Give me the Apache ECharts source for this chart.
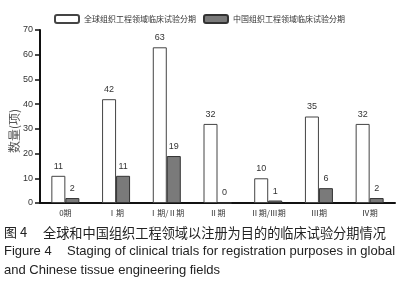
<!DOCTYPE html>
<html>
<head>
<meta charset="utf-8">
<script src="https://cdn.jsdelivr.net/npm/echarts@6/dist/echarts.min.js"></script>
<style>
  html, body { margin: 0; padding: 0; background: #fff; }
  #chart { width: 408px; height: 288px; }
</style>
</head>
<body>
<div id="chart"></div>
<script>
// 分期类别
const categories = ['0期', 'Ⅰ期', 'Ⅰ期/Ⅱ期', 'Ⅱ期', 'Ⅱ期/Ⅲ期', 'Ⅲ期', 'Ⅳ期']
// 全球
const globalCounts = [11, 42, 63, 32, 10, 35, 32]
// 中国
const chinaCounts = [2, 11, 19, 0, 1, 6, 2]
const yTicks = [0, 10, 20, 30, 40, 50, 60, 70]

const cjk = '"Noto Sans CJK SC", sans-serif'
const latin = '"Liberation Sans", Arial, sans-serif'

const mychart = echarts.init(document.getElementById('chart'))
mychart.setOption({
  animation: false,
  legend: {
    top: 9,
    left: 49,
    itemWidth: 24,
    itemHeight: 8,
    itemGap: 7,
    textStyle: { fontFamily: cjk, fontSize: 8, color: '#333' },
    data: ['全球组织工程领域临床试验分期', '中国组织工程领域临床试验分期']
  },
  grid: { left: 40, right: 13, top: 30, bottom: 85 },
  xAxis: {
    type: 'category',
    data: categories,
    axisLine: { lineStyle: { color: '#111', width: 2 } },
    axisTick: { length: 3, lineStyle: { color: '#999' } },
    axisLabel: { fontFamily: cjk, fontSize: 8, color: '#333', margin: 6, interval: 0 }
  },
  yAxis: {
    type: 'value',
    min: yTicks[0],
    max: yTicks[yTicks.length - 1],
    interval: 10,
    axisLine: { show: true, lineStyle: { color: '#111', width: 2 } },
    axisTick: { show: true, length: 5, lineStyle: { color: '#111', width: 1.5 } },
    axisLabel: { fontFamily: latin, fontSize: 9, color: '#333', margin: 7 },
    splitLine: { show: false }
  },
  series: [
    {
      name: '全球组织工程领域临床试验分期',
      type: 'bar',
      data: globalCounts,
      barWidth: 14,
      barGap: '0%',
      itemStyle: { color: '#fff', borderColor: '#444', borderWidth: 1 },
      label: { show: true, position: 'top', distance: 5, fontFamily: latin, fontSize: 9, color: '#333' }
    },
    {
      name: '中国组织工程领域临床试验分期',
      type: 'bar',
      data: chinaCounts,
      barWidth: 14,
      itemStyle: { color: '#7a7a7a', borderColor: '#333', borderWidth: 1 },
      label: { show: true, position: 'top', distance: 5, fontFamily: latin, fontSize: 9, color: '#333' }
    }
  ],
  graphic: [
    // 纵轴标题
    {
      type: 'text', x: 14, y: 131, rotation: Math.PI / 2,
      style: { text: '数量(项)', font: '12px ' + cjk, fill: '#555', align: 'center', verticalAlign: 'middle' }
    },
    {
      type: 'text', left: 4, top: 226,
      style: { text: '图 4', font: '13px ' + cjk, fill: '#222' }
    },
    {
      type: 'text', left: 43, top: 226,
      style: { text: '全球和中国组织工程领域以注册为目的的临床试验分期情况', font: '13.2px ' + cjk, fill: '#222' }
    },
    {
      type: 'text', left: 4, top: 245,
      style: { text: 'Figure 4', font: '13px ' + latin, fill: '#222' }
    },
    {
      type: 'text', left: 67, top: 245,
      style: { text: 'Staging of clinical trials for registration purposes in global', font: '13px ' + latin, fill: '#222' }
    },
    {
      type: 'text', left: 4, top: 264,
      style: { text: 'and Chinese tissue engineering fields', font: '13px ' + latin, fill: '#222' }
    }
  ]
})
</script>
</body>
</html>
